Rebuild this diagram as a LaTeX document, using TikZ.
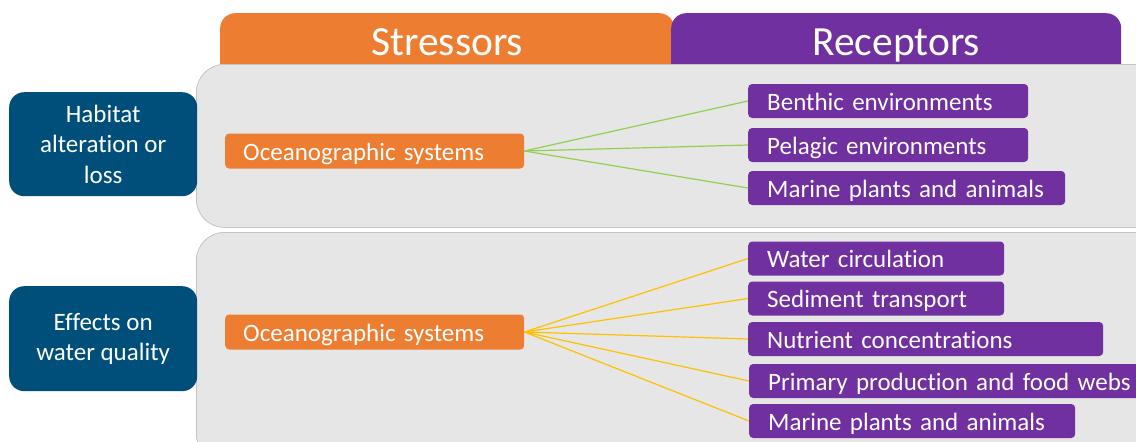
\documentclass[tikz,border=0pt]{standalone}
\usepackage{fontspec}
\setmainfont{Carlito}[RawFeature=-liga]
\definecolor{sorange}{HTML}{ED7D31}
\definecolor{rpurple}{HTML}{7030A0}
\definecolor{dblue}{HTML}{004E7A}
\definecolor{panelgray}{HTML}{E6E6E6}
\definecolor{panelline}{HTML}{C4C4C4}
\definecolor{lgreen}{HTML}{92D050}
\definecolor{lyellow}{HTML}{FFC000}
\begin{document}
\begin{tikzpicture}[x=1pt,y=-1pt,
  hdr/.style={rounded corners=15pt, text=white, font=\fontsize{41.5}{50}\selectfont,
    inner sep=0pt, anchor=north west, minimum height=67pt, text height=30pt, text depth=13pt},
  panel/.style={draw=panelline, line width=0.8pt, fill=panelgray, rounded corners=28pt,
    inner sep=0pt, anchor=north west, minimum width=975pt},
  cat/.style={fill=dblue, rounded corners=15pt, text=white, align=center,
    font=\fontsize{25}{30.5}\selectfont, inner sep=0pt, anchor=north west, minimum width=188pt},
  sbox/.style={fill=sorange, rounded corners=4pt, text=white, anchor=west, align=left,
    font=\fontsize{25}{30}\selectfont, inner xsep=18pt, inner ysep=0pt,
    minimum height=35pt, text height=22pt, text depth=4pt, text width=263pt},
  rbox/.style={fill=rpurple, rounded corners=4pt, text=white, anchor=west, align=left,
    font=\fontsize{25}{30}\selectfont, inner xsep=19pt, inner ysep=0pt,
    minimum height=34pt, text height=22pt, text depth=4pt},
  glink/.style={draw=lgreen, line width=1.2pt},
  ylink/.style={draw=lyellow, line width=1.2pt}
]
\useasboundingbox (0,0) rectangle (1136,442);
\clip (0,0) rectangle (1136,442);

% headers
\node[hdr, fill=sorange, minimum width=454pt] (hs) at (220,13) {Stressors};
\node[hdr, fill=rpurple, minimum width=450pt] (hr) at (671,13) {Receptors};

% panels
\node[panel, minimum height=163pt] (p1) at (196,64) {};
\node[panel, minimum height=230pt] (p2) at (196,232) {};

% category boxes
\node[cat, minimum height=104pt] (c1) at (9,92) {Habitat\\alteration or\\loss};
\node[cat, minimum height=105pt] (c2) at (9,286) {Effects on\\water quality};

% stressor boxes
\node[sbox] (s1) at (225,151) {Oceanographic systems};
\node[sbox] (s2) at (225,332) {Oceanographic systems};

% receptor boxes, group 1
\node[rbox, text width=242pt] (r1) at (748,101) {Benthic environments};
\node[rbox, text width=242pt] (r2) at (748,145) {Pelagic environments};
\node[rbox, text width=279pt] (r3) at (748,188) {Marine plants and animals};

% receptor boxes, group 2
\node[rbox, text width=218pt] (q1) at (748,258.5) {Water circulation};
\node[rbox, text width=218pt] (q2) at (748,298.5) {Sediment transport};
\node[rbox, text width=317pt] (q3) at (748,339) {Nutrient concentrations};
\node[rbox, text width=400pt] (q4) at (749,381) {Primary production and food webs};
\node[rbox, text width=288pt] (q5) at (749,421) {Marine plants and animals};

% connectors
\foreach \t in {r1,r2,r3} \draw[glink] (s1.east) -- (\t.west);
\foreach \t in {q1,q2,q3,q4,q5} \draw[ylink] (s2.east) -- (\t.west);
\end{tikzpicture}
\end{document}
